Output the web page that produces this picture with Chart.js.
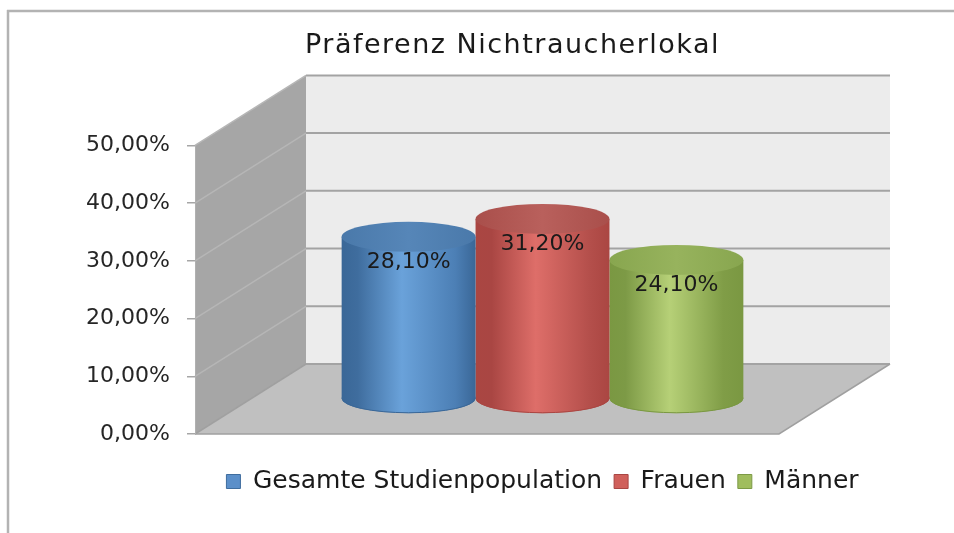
<!DOCTYPE html>
<html>
<head>
<meta charset="utf-8">
<script src="https://cdn.jsdelivr.net/npm/chart.js@4.4.1/dist/chart.umd.min.js"></script>
<style>
  html, body { margin: 0; padding: 0; background: #ffffff; }
  #wrap { width: 954px; height: 533px; position: relative; }
</style>
</head>
<body>
<div id="wrap"><canvas id="c" width="954" height="533"></canvas></div>
<script>
// ---- data ----
const titleText = 'Präferenz Nichtraucherlokal';
const categories = ['Präferenz Nichtraucherlokal'];
const seriesNames = ['Gesamte Studienpopulation', 'Frauen', 'Männer'];
const gesamt = [0.281];
const frauen = [0.312];
const maenner = [0.241];
const yTicks = [0, 0.1, 0.2, 0.3, 0.4, 0.5];

// ---- style ----
const FONT = '"DejaVu Sans", sans-serif';
const palette = [
  { flat: '#5b8fc9', edge: '#3f6d9e', dark: '#3a6797', light: '#6aa2da', right: '#4c7fb5', top: '#4a79aa', topLight: '#5686b8' },
  { flat: '#d0605b', edge: '#a94643', dark: '#aa4642', light: '#de6e69', right: '#b44f4b', top: '#a94f4b', topLight: '#b9605c' },
  { flat: '#a0bd5e', edge: '#7d9a46', dark: '#7a9842', light: '#b6d077', right: '#809d47', top: '#88a64f', topLight: '#97b35d' }
];
const DEPTH_X = 111, DEPTH_Y = -70;   // 3D depth offset of the box
const RY = 15;                        // ellipse half-height of cylinder caps

function fmtPct(v) { return (v * 100).toFixed(2).replace('.', ',') + '%'; }

const seriesData = [gesamt, frauen, maenner];

const threeD = {
  id: 'threeD',
  afterLayout(chart) {
    const t = chart.titleBlock, l = chart.legend;
    if (t) { t.left += 25; t.right += 25; }
    if (l) { l.left += 55; l.right += 55; }
    if (t && !t.__patched) {
      const orig = t.draw.bind(t);
      t.draw = function () {
        const ctx = chart.ctx; ctx.save();
        try { ctx.letterSpacing = '1.5px'; } catch (e) {}
        orig(); ctx.restore();
      };
      t.__patched = true;
    }
  },
  beforeDraw(chart) {
    const ctx = chart.ctx;
    ctx.save();
    ctx.strokeStyle = '#b3b3b3';
    ctx.lineWidth = 2.5;
    ctx.beginPath();
    ctx.moveTo(7, 11); ctx.lineTo(954, 11);
    ctx.moveTo(8, 10); ctx.lineTo(8, 533);
    ctx.stroke();
    ctx.restore();
  },
  beforeDatasetsDraw(chart) {
    const ctx = chart.ctx, a = chart.chartArea, ys = chart.scales.y;
    const L = a.left, R = a.right;
    const yTop = ys.getPixelForValue(yTicks[yTicks.length - 1]);
    const yBot = ys.getPixelForValue(0);
    const dx = DEPTH_X, dy = DEPTH_Y;
    ctx.save();
    // back wall
    ctx.fillStyle = '#ececec';
    ctx.fillRect(L + dx, yTop + dy, R - (L + dx), yBot - yTop);
    // side wall
    ctx.fillStyle = '#a6a6a6';
    ctx.beginPath();
    ctx.moveTo(L, yTop); ctx.lineTo(L + dx, yTop + dy); ctx.lineTo(L + dx, yBot + dy); ctx.lineTo(L, yBot);
    ctx.closePath(); ctx.fill();
    // floor
    ctx.fillStyle = '#c0c0c0';
    ctx.beginPath();
    ctx.moveTo(L, yBot); ctx.lineTo(R - dx, yBot); ctx.lineTo(R, yBot + dy); ctx.lineTo(L + dx, yBot + dy);
    ctx.closePath(); ctx.fill();
    // back wall grid lines
    ctx.strokeStyle = '#a3a3a3';
    ctx.lineWidth = 2;
    yTicks.forEach(v => {
      const y = ys.getPixelForValue(v) + dy;
      ctx.beginPath(); ctx.moveTo(L + dx, y); ctx.lineTo(R, y); ctx.stroke();
    });
    // side wall grid lines
    ctx.strokeStyle = '#b6b6b6';
    ctx.lineWidth = 1.5;
    yTicks.forEach(v => {
      if (v === 0) return;
      const y = ys.getPixelForValue(v);
      ctx.beginPath(); ctx.moveTo(L, y); ctx.lineTo(L + dx, y + dy); ctx.stroke();
    });
    // floor edges
    ctx.strokeStyle = '#a0a0a0';
    ctx.lineWidth = 1.5;
    ctx.beginPath();
    ctx.moveTo(L, yBot); ctx.lineTo(R - dx, yBot); ctx.lineTo(R, yBot + dy);
    ctx.stroke();
    ctx.beginPath();
    ctx.moveTo(L, yBot); ctx.lineTo(L + dx, yBot + dy);
    ctx.stroke();
    // front edge of side wall
    ctx.strokeStyle = '#b0b0b0';
    ctx.lineWidth = 1;
    ctx.beginPath(); ctx.moveTo(L + 0.5, yTop); ctx.lineTo(L + 0.5, yBot); ctx.stroke();
    ctx.restore();
    // bars sit at mid-depth
    ctx.save();
    ctx.translate(0, dy / 2);
  },
  beforeDatasetDraw(chart, args) {
    const ctx = chart.ctx, meta = args.meta, p = palette[args.index];
    meta.data.forEach(el => {
      const w = el.width, x = el.x;
      const g = ctx.createLinearGradient(x - w / 2, 0, x + w / 2, 0);
      g.addColorStop(0, p.dark);
      g.addColorStop(0.12, p.edge);
      g.addColorStop(0.45, p.light);
      g.addColorStop(0.85, p.right);
      g.addColorStop(1, p.dark);
      el.options = Object.assign({}, el.options, { backgroundColor: g, borderWidth: 0 });
      // bottom of cylinder
      ctx.save();
      ctx.fillStyle = g;
      ctx.beginPath();
      ctx.ellipse(x, el.base, w / 2, RY, 0, 0, Math.PI * 2);
      ctx.fill();
      ctx.strokeStyle = p.dark;
      ctx.lineWidth = 1;
      ctx.beginPath();
      ctx.ellipse(x, el.base, w / 2 - 0.5, RY - 0.5, 0, 0, Math.PI);
      ctx.stroke();
      ctx.restore();
    });
  },
  afterDatasetDraw(chart, args) {
    const ctx = chart.ctx, meta = args.meta, p = palette[args.index];
    meta.data.forEach((el, i) => {
      const w = el.width, x = el.x;
      ctx.save();
      const tg = ctx.createLinearGradient(x - w / 2, 0, x + w / 2, 0);
      tg.addColorStop(0, p.top);
      tg.addColorStop(0.5, p.topLight);
      tg.addColorStop(1, p.top);
      ctx.fillStyle = tg;
      ctx.beginPath();
      ctx.ellipse(x, el.y, w / 2, RY, 0, 0, Math.PI * 2);
      ctx.fill();
      // label
      ctx.fillStyle = '#1a1a1a';
      ctx.font = '22px ' + FONT;
      ctx.textAlign = 'center';
      ctx.textBaseline = 'middle';
      ctx.fillText(fmtPct(seriesData[args.index][i]), x, el.y + 25);
      ctx.restore();
    });
  },
  afterDatasetsDraw(chart) {
    chart.ctx.restore();
  }
};

new Chart(document.getElementById('c'), {
  type: 'bar',
  data: {
    labels: categories,
    datasets: seriesNames.map((name, i) => ({
      label: name,
      data: seriesData[i],
      backgroundColor: palette[i].flat,
      borderColor: palette[i].edge,
      borderWidth: 0,
      categoryPercentage: 0.578,
      barPercentage: 1.0
    }))
  },
  options: {
    responsive: false,
    animation: false,
    events: [],
    layout: { padding: { left: 85, right: 64, top: 0, bottom: 29 } },
    scales: {
      x: {
        display: true,
        grid: { display: false },
        border: { display: false },
        ticks: { display: false },
        afterFit: s => { s.height = 23; }
      },
      y: {
        min: 0, max: 0.5,
        afterFit: s => { s.width = 110; },
        afterBuildTicks: s => { s.ticks = yTicks.map(v => ({ value: v })); },
        grid: { drawOnChartArea: false, drawTicks: true, tickLength: 8, color: '#a6a6a6', lineWidth: 1.5 },
        border: { display: false },
        ticks: {
          padding: 17,
          color: '#262626',
          font: { family: FONT, size: 22 },
          callback: v => fmtPct(v)
        }
      }
    },
    plugins: {
      title: {
        display: true,
        text: titleText,
        color: '#1a1a1a',
        font: { family: FONT, size: 27, weight: 'normal', lineHeight: 1.2 },
        padding: { top: 30, bottom: 83 }
      },
      legend: {
        position: 'bottom',
        labels: {
          boxWidth: 14, boxHeight: 14, padding: 12,
          color: '#1a1a1a',
          font: { family: FONT, size: 25 },
          generateLabels: chart => {
            const items = Chart.defaults.plugins.legend.labels.generateLabels(chart);
            items.forEach((it, i) => { it.fillStyle = palette[i].flat; it.strokeStyle = palette[i].edge; it.lineWidth = 1; });
            return items;
          }
        }
      },
      tooltip: { enabled: false }
    }
  },
  plugins: [threeD]
});
</script>
</body>
</html>
